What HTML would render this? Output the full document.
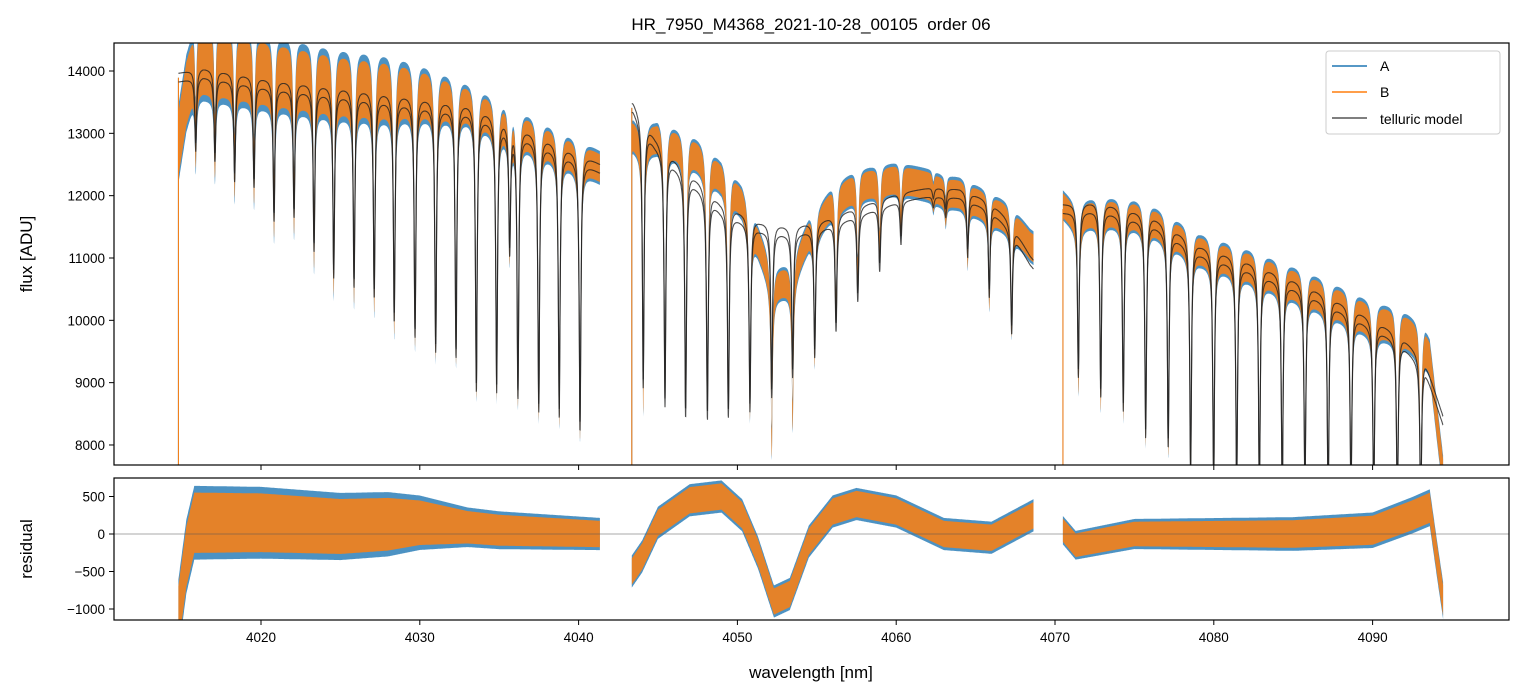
<!DOCTYPE html>
<html><head><meta charset="utf-8">
<style>
html,body{margin:0;padding:0;background:#fff;}
svg{display:block;font-family:"Liberation Sans","DejaVu Sans",sans-serif;}
</style></head>
<body>
<svg id="chart" width="1523" height="696" viewBox="0 0 1523 696">
<defs>
<clipPath id="clipTop"><rect x="114" y="43" width="1395" height="422"/></clipPath>
<clipPath id="clipBot"><rect x="114" y="478" width="1395" height="142"/></clipPath>
</defs>
<text x="811" y="30" text-anchor="middle" font-size="17" xml:space="preserve" style="white-space:pre">HR_7950_M4368_2021-10-28_00105  order 06</text>
<g id="topData" clip-path="url(#clipTop)"></g>
<g id="botData" clip-path="url(#clipBot)"></g>
<rect x="114" y="43" width="1395" height="422" fill="none" stroke="#000" stroke-width="1.2"/>
<rect x="114" y="478" width="1395" height="142" fill="none" stroke="#000" stroke-width="1.2"/>
<g id="axes"></g>
<text x="811" y="678" text-anchor="middle" font-size="17">wavelength [nm]</text>
<text transform="translate(32,254) rotate(-90)" text-anchor="middle" font-size="17">flux [ADU]</text>
<text transform="translate(32,549) rotate(-90)" text-anchor="middle" font-size="17">residual</text>
<g>
<rect x="1326" y="51" width="174" height="83" rx="3" fill="#fff" fill-opacity="0.8" stroke="#ccc"/>
<line x1="1332" y1="66" x2="1367" y2="66" stroke="#1f77b4" stroke-width="1.5"/>
<text x="1380" y="71" font-size="14">A</text>
<line x1="1332" y1="92" x2="1367" y2="92" stroke="#ff7f0e" stroke-width="1.5"/>
<text x="1380" y="97" font-size="14">B</text>
<line x1="1332" y1="118" x2="1367" y2="118" stroke="#555" stroke-width="1.5"/>
<text x="1380" y="124" font-size="14">telluric model</text>
</g>
</svg>
<script>
const segStart=[4014.8,4043.35,4070.5];
const segEnd=[4041.35,4068.65,4094.45];
const contWl=[4014.8,4016.35,4020.57,4024.79,4028.94,4033.16,4037.38,4040.53,4041.35,
 4043.43,4044.81,4046.39,4047.64,4048.9,4050.16,4051.42,4053.31,4055.2,4057.72,4060.24,4062.13,4064.02,4065.91,4067.17,4068.43,4068.65,
 4070.63,4072.83,4075.98,4079.13,4082.28,4085.43,4088.58,4091.73,4093.3,4094.43];
const contFlux=[13900,13984,13807,13695,13567,13422,12941,12572,12450,
 13455,12893,12460,12171,11850,11690,11529,11449,11529,11770,11979,12059,12040,11850,11529,10968,10900,
 11802,11850,11642,11160,10888,10567,10166,9716,9283,8400];
const lineWl=[4015.89,4017.1,4018.34,4019.56,4020.82,4022.08,4023.34,4024.58,4025.86,4027.13,4028.39,4029.7,4031.0,4032.28,4033.56,4034.84,4035.66,4036.18,4037.49,4038.78,4040.09,
 4044.07,4045.44,4046.74,4048.11,4049.43,4050.79,4052.16,4053.48,4054.87,4056.21,4057.58,4058.96,4060.3,4062.34,4063.12,4064.5,4065.86,4067.27,
 4071.47,4072.88,4074.3,4075.71,4077.13,4078.54,4079.99,4081.44,4082.87,4084.31,4085.74,4087.2,4088.64,4090.07,4091.56,4093.03];
const lineMin=[12781,12620,12299,12203,11658,11722,11176,10759,10599,10438,10053,9797,9572,9476,8930,8930,11176,8834,8609,8513,8289,
 8994,8690,8513,8481,8513,8609,8834,9155,9476,9893,10374,10855,11289,11882,11722,11080,10438,9845,
 9155,8834,8609,8192,8032,7600,7400,7300,7300,7200,7200,7200,7100,7100,7000,7000];
const resWl=[4014.8,4015.3,4015.8,4020,4025,4030,4035,4041.35,4043.35,4044,4045,4047,4049,4050.3,4051.3,4052.3,4053.3,4054.5,4056,4057.5,4060,4063,4066,4068.65,4070.5,4071.3,4075,4080,4085,4090,4092.5,4093.6,4094.1,4094.45];
const resVal=[-1100,-300,150,150,100,150,50,0,-500,-300,150,450,500,250,-250,-900,-800,-100,300,400,300,0,-50,250,50,-150,0,0,0,50,250,350,-400,-900];
const ampWl=[4014.8,4020,4028,4033,4041.35,4043.35,4068.65,4070.5,4094.45];
const ampVal=[600,580,520,320,260,260,260,230,300];
const yTicks=[8000,9000,10000,11000,12000,13000,14000];
const rTicks=[500,0,-500,-1000];
const xTicks=[4020,4030,4040,4050,4060,4070,4080,4090];

const X=w=>261+(w-4020)*15.88;
const Y=f=>71+(14000-f)*62.33/1000;
const R=v=>534-v*0.075;
function interp(xs,ys,x){ if(x<=xs[0])return ys[0]; for(let i=1;i<xs.length;i++){ if(x<=xs[i]){const t=(x-xs[i-1])/(xs[i]-xs[i-1]); return ys[i-1]+t*(ys[i]-ys[i-1]);} } return ys[ys.length-1]; }
function cont(w,s){
  const xs=[],ys=[]; for(let i=0;i<contWl.length;i++){ if(contWl[i]>=segStart[s]-0.01&&contWl[i]<=segEnd[s]+0.01){xs.push(contWl[i]);ys.push(contFlux[i]);} }
  return interp(xs,ys,w);
}
function model(w,s){
  const c=cont(w,s); let f=1;
  for(let i=0;i<lineWl.length;i++){ const d=Math.min(0.97,1-lineMin[i]/interp(contWl,contFlux,lineWl[i])); const u=(w-lineWl[i])/0.065; f*=1-d/(1+u*u); }
  return c*f;
}
const NS='http://www.w3.org/2000/svg';
const topG=document.getElementById('topData'), botG=document.getElementById('botData'), axesG=document.getElementById('axes');
function mk(tag,attrs,parent){const e=document.createElementNS(NS,tag); for(const k in attrs)e.setAttribute(k,attrs[k]); parent.appendChild(e); return e;}
const step=0.012;
for(let s=0;s<3;s++){
  const ws=[]; for(let w=segStart[s]; w<=segEnd[s]; w+=step) ws.push(w);
  const m=ws.map(w=>model(w,s));
  const off=ws.map(w=>interp(resWl,resVal,w));
  const amp=ws.map(w=>interp(ampWl,ampVal,w));
  for(const [col,k,name] of [['#1f77b4',1.1,'series-a-band'],['#ff7f0e',0.9,'series-b-band']]){
    let up=[],lo=[];
    ws.forEach((w,i)=>{up.push(X(w).toFixed(1)+','+Y(m[i]+off[i]+amp[i]*k).toFixed(1)); lo.push(X(w).toFixed(1)+','+Y(m[i]+off[i]-amp[i]*k*0.9).toFixed(1));});
    const p=mk('polygon',{points:up.concat(lo.reverse()).join(' '),fill:col,'fill-opacity':col==='#1f77b4'?0.8:0.85},topG);
    
    
    const e1=mk('line',{x1:X(segStart[s]),x2:X(segStart[s]),y1:Y(m[0]),y2:470,stroke:col,'stroke-width':1},topG);
    
    
    let rup=[],rlo=[];
    ws.forEach((w,i)=>{const a=amp[i]*k*0.75; rup.push(X(w).toFixed(1)+','+R(off[i]+a).toFixed(1)); rlo.push(X(w).toFixed(1)+','+R(off[i]-a).toFixed(1));});
    const rp=mk('polygon',{points:rup.concat(rlo.reverse()).join(' '),fill:col,'fill-opacity':col==='#1f77b4'?0.8:0.85},botG);
    
    
  }
  for(const dv of [70,-70]){
    const d=ws.map((w,i)=>(i?'L':'M')+X(w).toFixed(1)+' '+Y(m[i]+dv).toFixed(1)).join('');
    const pl=mk('path',{d:d,fill:'none',stroke:'#222','stroke-width':1.1,'stroke-opacity':0.8},topG);
    
    
  }
}
const zl=mk('line',{x1:114,x2:1509,y1:R(0),y2:R(0),stroke:'#555','stroke-width':0.6},botG);


yTicks.forEach(t=>{const y=Y(t);
  const l=mk('line',{x1:109,x2:114,y1:y,y2:y,stroke:'#000'},axesG);
  
  
  const tx=mk('text',{x:105,y:y+5,'text-anchor':'end','font-size':13.5},axesG); tx.textContent=t;
  
  
});
rTicks.forEach(t=>{const y=R(t);
  const l=mk('line',{x1:109,x2:114,y1:y,y2:y,stroke:'#000'},axesG);
  
  
  const tx=mk('text',{x:105,y:y+5,'text-anchor':'end','font-size':13.5},axesG); tx.textContent=t.toString().replace('-','\u2212');
  
  
});
xTicks.forEach(t=>{const x=X(t);
  for(const yy of [465,620]){const l=mk('line',{x1:x,x2:x,y1:yy,y2:yy+5,stroke:'#000'},axesG);
    
    }
  const tx=mk('text',{x:x,y:642,'text-anchor':'middle','font-size':13.5},axesG); tx.textContent=t;
  
  
});
</script>
</body></html>
